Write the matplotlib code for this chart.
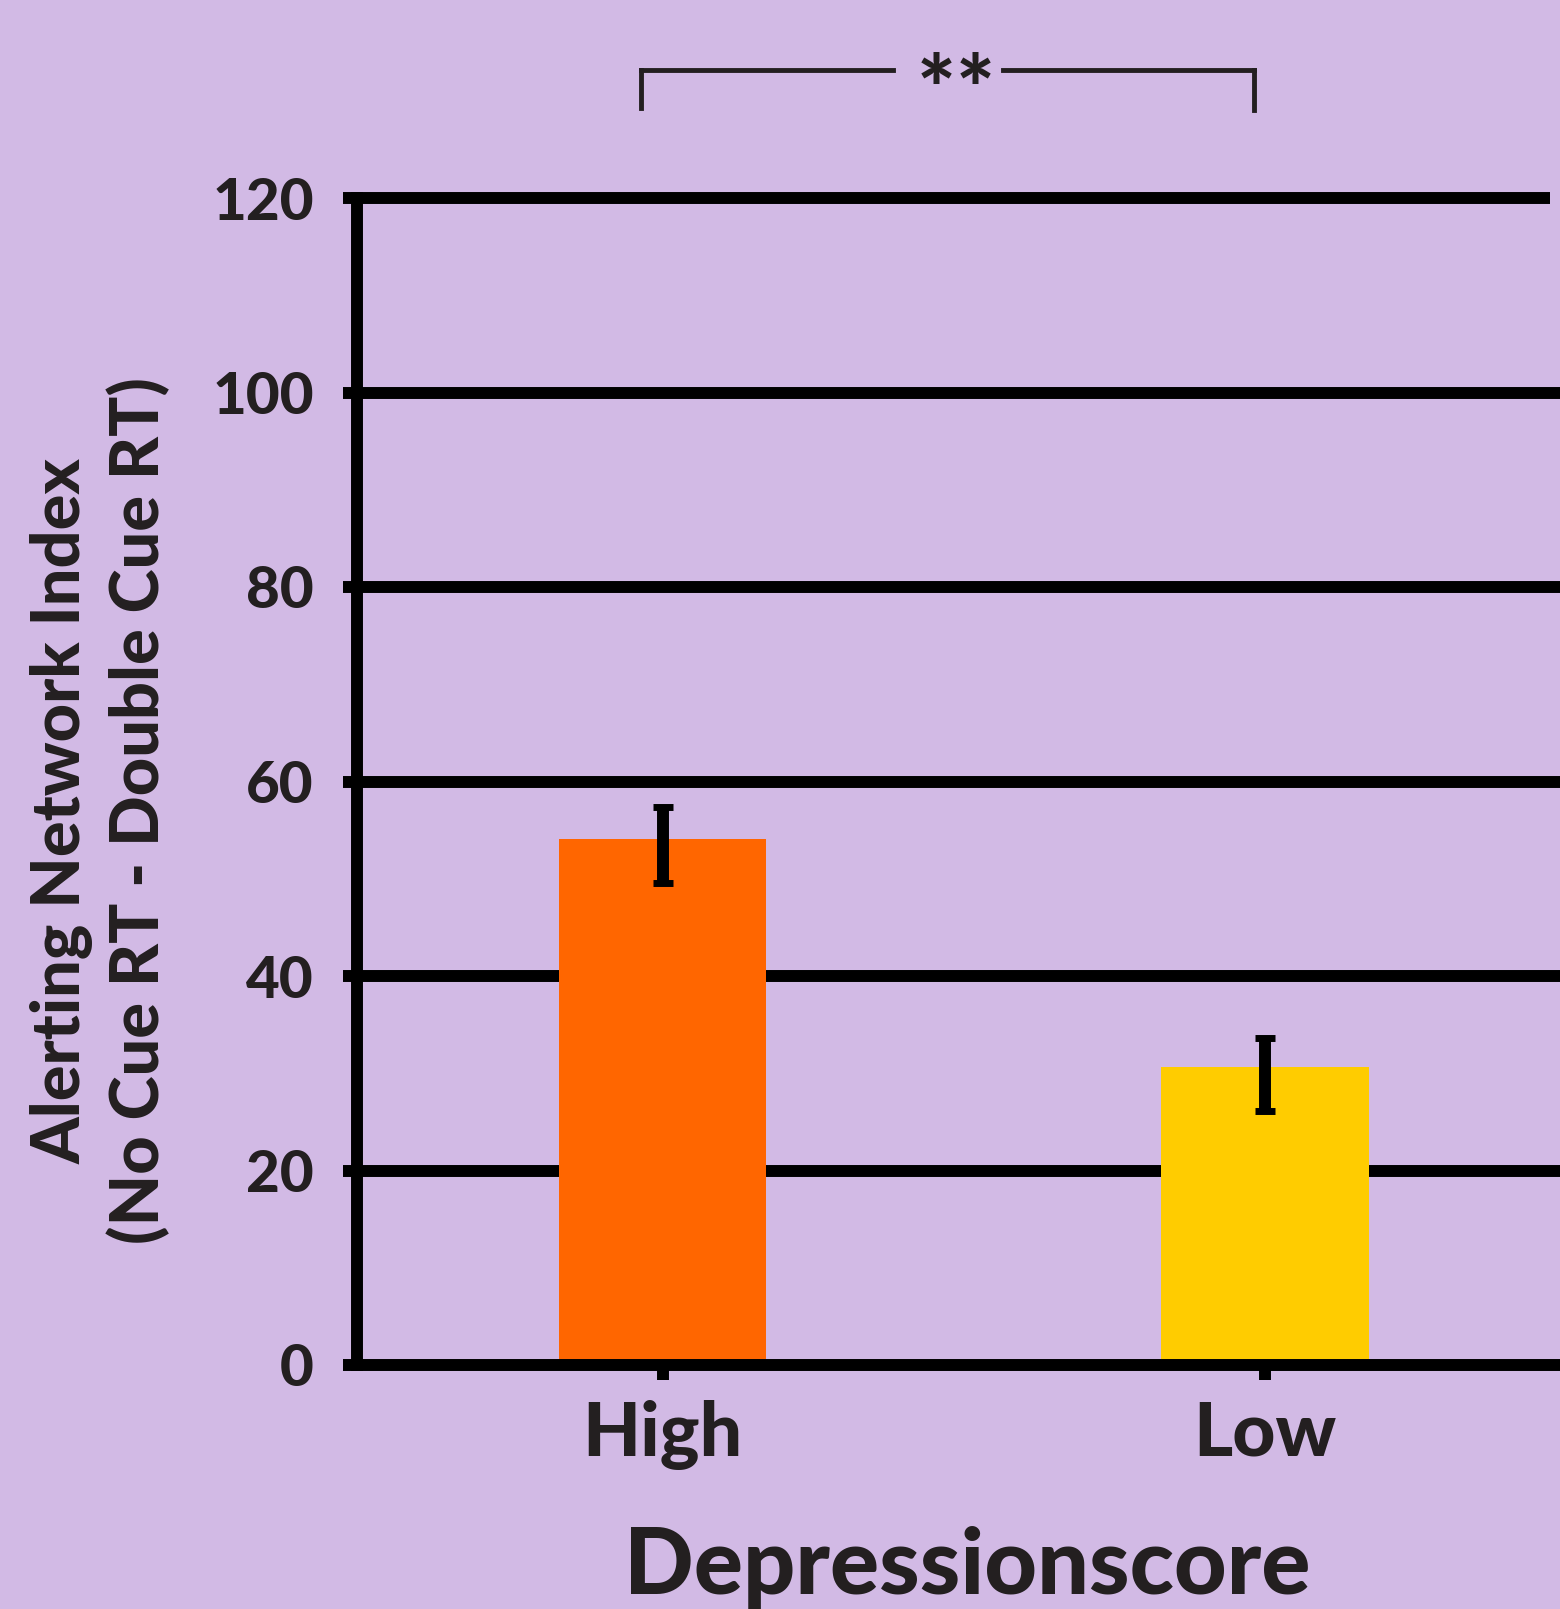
import matplotlib
matplotlib.use("Agg")
import matplotlib.pyplot as plt
import numpy as np

categories = ["High", "Low"]
values = [54.1, 30.6]
err_lower = [4.5, 4.5]
err_upper = [3.3, 3.0]
bar_colors = ["#FF6600", "#FFCC00"]
yticks = [0, 20, 40, 60, 80, 100, 120]
sig_label = "**"

BG = "#D2BAE5"
INK = "#231F20"
W, H = 1560, 1609
plt.rcParams['font.family'] = ['Lato', 'DejaVu Sans']
FW = "black"

fig = plt.figure(figsize=(W / 100, H / 100), dpi=100, facecolor=BG)
ax = fig.add_axes([357 / W, (H - 1365) / H, (1560 - 357) / W, (1365 - 198) / H])
ax.set_facecolor(BG)

x = np.arange(len(categories))
ax.set_xlim(-0.508, 1.49)
ax.set_ylim(0, 120)

for yv in yticks[1:]:
    xmax = 0.9917 if yv == yticks[-1] else 1.0
    ax.axhline(yv, xmax=xmax, color="black", lw=8.6, zorder=1, solid_capstyle="butt", clip_on=False)

ax.bar(x, values, width=0.344, color=bar_colors, zorder=2)
ax.errorbar(x, values, yerr=[err_lower, err_upper], fmt="none", ecolor="black",
            elinewidth=8.6, capsize=7.5, capthick=5, zorder=3)

for s in ["top", "right"]:
    ax.spines[s].set_visible(False)
ax.spines["left"].set_linewidth(8.6)
ax.spines["bottom"].set_linewidth(8.6)
ax.spines["left"].set_zorder(4)
ax.spines["bottom"].set_zorder(4)
ax.spines["bottom"].set_capstyle("butt")

ax.set_yticks(yticks)
ax.set_yticklabels([str(v) for v in yticks], fontsize=42, fontweight=FW, color=INK)
ax.set_xticks(x)
ax.set_xticklabels(categories, fontsize=54, fontweight=FW, color=INK)
ax.tick_params(axis="y", length=10, width=8.6, pad=21, color="black")
ax.tick_params(axis="x", length=11, width=8.6, pad=14, color="black")

fig.text(967 / W, 1 - 1594 / H, "Depressionscore", fontsize=66, fontweight=FW,
         color=INK, ha="center", va="baseline")
fig.text(62 / W, 1 - 811 / H, "Alerting Network Index", fontsize=48, fontweight=FW,
         color=INK, ha="center", va="center", rotation=90)
fig.text(139 / W, 1 - 811 / H, "(No Cue RT - Double Cue RT)", fontsize=48, fontweight=FW,
         color=INK, ha="center", va="center", rotation=90)

# significance bracket (figure coordinates in pixels)
def px(xp, yp):
    return xp / W, 1 - yp / H

lx, rx, ty, by = 641, 1254, 70, 108
gap_l, gap_r = 893, 1003
for (x0, y0, x1, y1) in [(lx, by, lx, ty), (lx, ty, gap_l, ty), (gap_r, ty, rx, ty), (rx, ty, rx, by + 2)]:
    a, b = px(x0, y0)
    c, d = px(x1, y1)
    fig.add_artist(plt.Line2D([a, c], [b, d], color=INK, lw=3.5, solid_capstyle="projecting"))
for sx in (936, 975):
    fig.text(sx / W, 1 - 96 / H, sig_label[0], fontsize=66, fontweight=FW, color=INK,
             ha="center", va="center")

fig.savefig("out.png", dpi=100, facecolor=BG)
